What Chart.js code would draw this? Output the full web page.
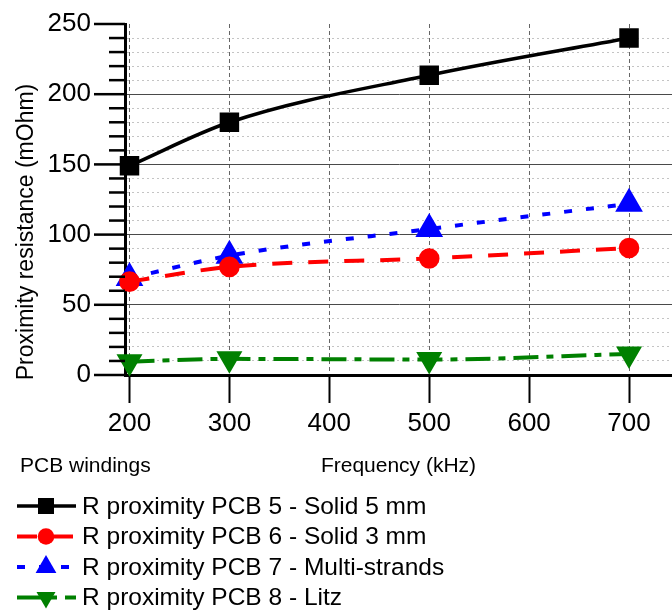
<!DOCTYPE html>
<html>
<head>
<meta charset="utf-8">
<title>Proximity resistance</title>
<script src="https://cdn.jsdelivr.net/npm/chart.js@4.4.1/dist/chart.umd.min.js"></script>
<style>
  html, body { margin: 0; padding: 0; background: #fff; }
  #wrap { width: 672px; height: 616px; }
</style>
</head>
<body>
<div id="wrap"><canvas id="proxChart" width="672" height="616"></canvas></div>
<script>
// Frequency (kHz) of the measured points
const freqs = [200, 300, 500, 700];
// Proximity resistance (mOhm) per PCB winding
const pcb5Solid5 = [149, 180, 213.5, 240];
const pcb6Solid3 = [66.5, 77, 83, 90.5];
const pcb7Multi = [69, 85, 104, 122];
const pcb8Litz = [9.5, 11.5, 11, 15];
const seriesNames = [
    'R proximity PCB 5 - Solid 5 mm',
    'R proximity PCB 6 - Solid 3 mm',
    'R proximity PCB 7 - Multi-strands',
    'R proximity PCB 8 - Litz'
];
const xTicks = [200, 300, 400, 500, 600, 700];
const yTickMarks = [0, 10, 20, 30, 40, 50, 60, 70, 80, 90, 100, 110, 120, 130, 140, 150,
                    160, 170, 180, 190, 200, 210, 220, 230, 240, 250];

const FONT = '"Liberation Sans", Arial, sans-serif';
Chart.defaults.font.family = FONT;
Chart.defaults.color = '#000';

const pts = (vals) => freqs.map((f, i) => ({x: f, y: vals[i]}));

// small marker painter for the legend samples
function drawMarker(ctx, style, r, rot, x, y) {
    ctx.beginPath();
    if (style === 'rect') {
        const s = r * Math.SQRT1_2;
        ctx.rect(x - s, y - s, 2 * s, 2 * s);
    } else if (style === 'circle') {
        ctx.arc(x, y, r, 0, Math.PI * 2);
    } else {
        const a0 = (rot || 0) * Math.PI / 180;
        for (let k = 0; k < 3; k++) {
            const a = a0 + k * 2 * Math.PI / 3;
            const px = x + Math.sin(a) * r;
            const py = y - Math.cos(a) * r;
            if (k === 0) ctx.moveTo(px, py); else ctx.lineTo(px, py);
        }
        ctx.closePath();
    }
    ctx.fill();
}

// y tick marks (long at 50s, short elsewhere), y title and the legend under the plot
const extrasPlugin = {
    id: 'extras',
    afterDraw(chart) {
        const c = chart.ctx;
        const yScale = chart.scales.y;
        const axisX = yScale.left + yScale.width;
        c.save();
        c.fillStyle = '#000000';
        yTickMarks.forEach(v => {
            const py = yScale.getPixelForValue(v);
            const len = v % 50 === 0 ? 31 : 16;
            c.fillRect(axisX - len, py - 1.25, len, 2.5);
        });

        c.textBaseline = 'middle';
        c.save();
        c.translate(27, 232);
        c.rotate(-Math.PI / 2);
        c.textAlign = 'center';
        c.font = '23px ' + FONT;
        c.fillText('Proximity resistance (mOhm)', 0, 0);
        c.restore();

        c.textAlign = 'left';
        c.font = '21px ' + FONT;
        c.fillText('PCB windings', 20, 466);

        c.font = '24.5px ' + FONT;
        chart.data.datasets.forEach((ds, i) => {
            const y = 506 + i * 30.5;
            c.strokeStyle = ds.borderColor;
            c.lineWidth = ds.borderWidth;
            c.setLineDash(ds.borderDash || []);
            c.beginPath();
            c.moveTo(17, y);
            c.lineTo(76, y);
            c.stroke();
            c.setLineDash([]);
            c.fillStyle = ds.pointBackgroundColor;
            drawMarker(c, ds.pointStyle, ds.pointRadius, ds.pointRotation, 46, y);
            c.fillStyle = '#000';
            c.fillText(ds.label, 82, y + 1);
        });
        c.restore();
    }
};

const ctx = document.getElementById('proxChart').getContext('2d');
new Chart(ctx, {
    type: 'line',
    data: {
        datasets: [{
            label: seriesNames[0],
            data: pts(pcb5Solid5),
            borderColor: '#000',
            pointBackgroundColor: '#000',
            borderWidth: 3.5,
            pointStyle: 'rect',
            pointRadius: 11.3,
            pointRotation: 0
        }, {
            label: seriesNames[1],
            data: pts(pcb6Solid3),
            borderColor: '#ff0000',
            pointBackgroundColor: '#ff0000',
            borderWidth: 4,
            borderDash: [20, 16],
            pointStyle: 'circle',
            pointRadius: 8.3,
            pointRotation: 0
        }, {
            label: seriesNames[2],
            data: pts(pcb7Multi),
            borderColor: '#0000ff',
            pointBackgroundColor: '#0000ff',
            borderWidth: 4,
            borderDash: [8, 14],
            pointStyle: 'triangle',
            pointRadius: 12,
            pointRotation: 0
        }, {
            label: seriesNames[3],
            data: pts(pcb8Litz),
            borderColor: '#008000',
            pointBackgroundColor: '#008000',
            borderWidth: 4,
            borderDash: [25, 8, 7, 8],
            pointStyle: 'triangle',
            pointRadius: 11,
            pointRotation: 180
        }]
    },
    options: {
        responsive: false,
        animation: false,
        cubicInterpolationMode: 'monotone',
        clip: false,
        layout: { autoPadding: false, padding: { top: 24, right: 0, bottom: 137, left: 0 } },
        elements: {
            point: { borderWidth: 0, hoverRadius: 11 },
            line: { fill: false }
        },
        plugins: {
            legend: { display: false },
            tooltip: { enabled: false }
        },
        scales: {
            x: {
                type: 'linear',
                min: 195.5,
                max: 743,
                afterBuildTicks: (scale) => { scale.ticks = xTicks.map(v => ({value: v})); },
                afterFit: (scale) => { scale.height = 104; },
                ticks: { font: { size: 26 }, padding: 5, color: '#000' },
                grid: {
                    color: '#666',
                    lineWidth: 1,
                    tickLength: 28,
                    tickColor: '#000',
                    tickWidth: 2,
                    tickBorderDash: []
                },
                border: { display: true, color: '#000', width: 3, dash: [4, 3] },
                title: {
                    display: true,
                    text: 'Frequency (kHz)',
                    font: { size: 21 },
                    padding: { top: 0, bottom: 0 },
                    color: '#000'
                }
            },
            y: {
                min: 0,
                max: 250,
                afterFit: (scale) => { scale.width = 125; },
                ticks: {
                    stepSize: 10,
                    autoSkip: false,
                    font: { size: 26 },
                    padding: 4,
                    color: '#000',
                    callback: (v) => (v % 50 === 0 ? v : '')
                },
                grid: {
                    drawTicks: true,
                    tickLength: 30,
                    tickWidth: 2.5,
                    tickBorderDash: [],
                    tickColor: 'rgba(0,0,0,0)',
                    lineWidth: 1,
                    color: (c) => {
                        const v = c.tick ? c.tick.value : null;
                        if (v === 0 || v === 250) return 'rgba(0,0,0,0)';
                        return v % 50 === 0 ? '#4a4a4a' : '#c4c4c4';
                    }
                },
                border: {
                    display: true,
                    color: '#000',
                    width: 3,
                    dash: (c) => (c.tick && c.tick.value % 50 !== 0 ? [2, 3] : [])
                }
            }
        }
    },
    plugins: [extrasPlugin]
});
</script>
</body>
</html>
